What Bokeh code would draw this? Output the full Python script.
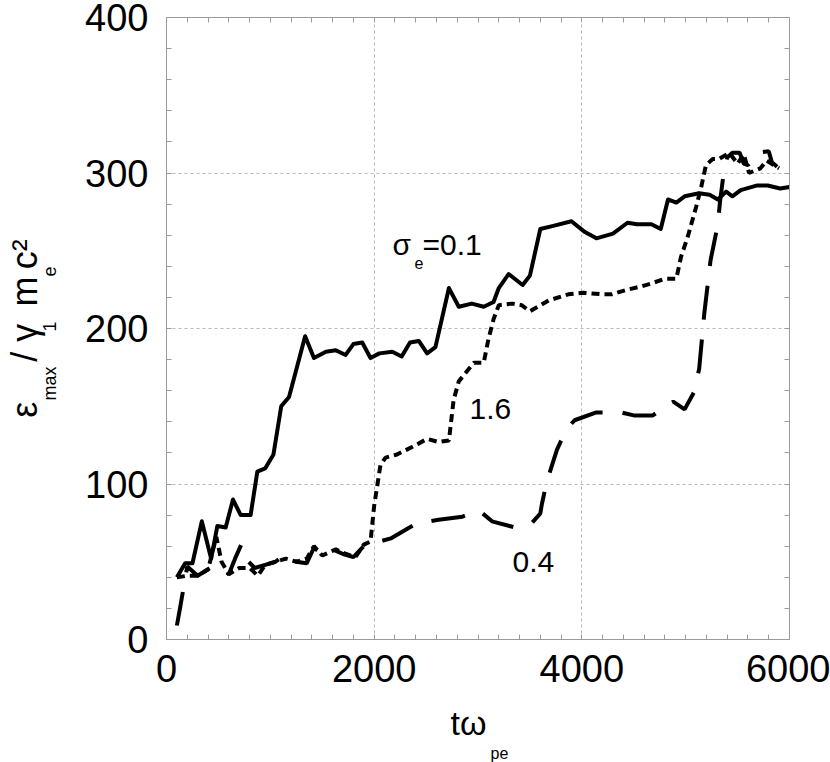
from bokeh.plotting import figure
from bokeh.models import Range1d, LinearAxis, Label, FixedTicker, Title
from bokeh.embed import file_html
from bokeh.resources import INLINE

# ---------------- data ----------------
x_s01 = [100, 180, 250, 340, 430, 490, 570, 640, 715, 810, 875, 950, 1030, 1105, 1180, 1260,
         1335, 1420, 1535, 1630, 1725, 1800, 1885, 1965, 2050, 2175, 2265, 2345, 2430, 2510,
         2590, 2720, 2815, 2940, 3055, 3150, 3200, 3295, 3430, 3500, 3600, 3725, 3900, 4030,
         4140, 4300, 4440, 4530, 4670, 4760, 4830, 4910, 4990, 5130, 5230, 5310, 5390, 5450,
         5530, 5690, 5790, 5910, 6000]
y_s01 = [40, 49, 49, 76, 52, 73, 72, 90, 80, 80, 108, 110, 119, 150, 156, 176,
         195, 181, 185, 186, 183, 190, 191, 181, 184, 185, 182, 191, 192, 184,
         188, 226, 214, 216, 214, 217, 226, 235, 228, 234, 264, 266, 269, 262,
         258, 261, 268, 267, 267, 264, 283, 281, 285, 287, 286, 283, 288, 285,
         289, 292, 292, 290, 291]

x_s16 = [100, 200, 300, 400, 480, 530, 600, 700, 800, 880, 950, 1050, 1150, 1250, 1350, 1420,
         1500, 1630, 1730, 1820, 1900, 1965, 2000, 2060, 2110, 2220, 2370, 2510, 2620, 2720,
         2765, 2815, 2960, 3055, 3100, 3150, 3200, 3330, 3420, 3500, 3680, 3870, 4010, 4190,
         4290, 4440, 4570, 4670, 4800, 4910, 4955, 5020, 5100, 5150, 5195, 5260, 5320, 5420,
         5500, 5560, 5610, 5720, 5780, 5850, 5900]
y_s16 = [40, 41, 41, 45, 66, 50, 42, 46, 46, 41, 48, 50, 52, 50, 52, 60,
         54, 58, 55, 53, 61, 63, 86, 112, 117, 119, 124, 129, 127, 128,
         154, 166, 178, 178, 193, 206, 215, 216, 215, 211, 218, 222, 223, 222,
         222, 225, 227, 229, 232, 232, 246, 259, 278, 291, 305, 309, 309, 313,
         306, 312, 300, 303, 308, 305, 303]

x_s04 = [100, 130, 200, 300, 420, 520, 600, 660, 720, 760, 850, 950, 1050, 1150, 1250, 1350,
         1420, 1500, 1600, 1700, 1800, 1900, 2050, 2160, 2340, 2450, 2530, 2620, 2850, 3010,
         3135, 3360, 3520, 3600, 3615, 3660, 3760, 3850, 3930, 4140, 4380, 4510, 4680, 4880,
         4990, 5080, 5130, 5180, 5240, 5310, 5330, 5370, 5400, 5450, 5520, 5560, 5600, 5680,
         5800, 5830, 5880]
y_s04 = [9, 20, 47, 41, 46, 47, 42, 52, 61, 52, 46, 48, 50, 55, 50, 49,
         59, 55, 58, 55, 53, 60, 63, 65, 72, 76, 76, 77, 79, 83,
         76, 72, 75, 81, 87, 101, 122, 135, 141, 146, 146, 144, 144, 153,
         148, 159, 174, 210, 244, 267, 281, 302, 310, 313, 313, 306, 305, 313,
         314, 307, 304]

x_ticks = [0, 2000, 4000, 6000]
y_ticks = [0, 100, 200, 300, 400]

NB = "\u00a0"
TH = "\u2009"
y_title_main = "ε" + NB * 4 + "/" + NB + "γ" + NB + TH + "m" + TH + "c²"
y_title_sub = "max" + NB * 7 + "1" + NB * 9 + "e" + NB * 2
x_title_main = "tω" + NB * 2
x_title_sub = "pe"

# ---------------- layout ----------------
FONT = "Liberation Sans"
FW, FH = 623, 622
ML, MT = 166, 17
W, H = 830, 762
XMAX, YMAX = 6000, 400

p = figure(output_backend="svg", toolbar_location=None,
           x_range=Range1d(0, XMAX), y_range=Range1d(0, YMAX),
           frame_width=FW, frame_height=FH,
           min_border_left=ML, min_border_top=MT,
           min_border_right=W - ML - FW, min_border_bottom=H - MT - FH,
           x_axis_location=None, y_axis_location=None)
p.outline_line_color = None
p.background_fill_color = "white"
p.border_fill_color = "white"


def minor_list(ticks, n):
    out = []
    for a, b in zip(ticks[:-1], ticks[1:]):
        step = (b - a) / n
        out += [a + k * step for k in range(1, n)]
    return out


def make_axis(ticks, n, labels):
    ax = LinearAxis()
    if labels:
        ax.ticker = FixedTicker(ticks=ticks, minor_ticks=minor_list(ticks, n))
        ax.major_label_text_font = FONT
        ax.major_label_text_font_size = "38px"
        ax.major_label_text_color = "black"
    else:
        ax.ticker = FixedTicker(ticks=[], minor_ticks=sorted(ticks + minor_list(ticks, n)))
    ax.axis_line_color = "#9a9a9a"
    ax.axis_line_width = 1
    ax.major_tick_line_color = "#9a9a9a"
    ax.minor_tick_line_color = "#9a9a9a"
    ax.major_tick_in = 5
    ax.major_tick_out = 0
    ax.minor_tick_in = 5
    ax.minor_tick_out = 0
    return ax


xb = make_axis(x_ticks, 10, True)
yl = make_axis(y_ticks, 5, True)
xt = make_axis(x_ticks, 10, False)
yr = make_axis(y_ticks, 5, False)
xb.major_label_standoff = 15
yl.major_label_standoff = 18

xb.axis_label = x_title_main
xb.axis_label_text_font = FONT
xb.axis_label_text_font_size = "34px"
xb.axis_label_text_font_style = "normal"
xb.axis_label_text_color = "black"
xb.axis_label_standoff = 19

yl.axis_label = y_title_sub
yl.axis_label_text_font = FONT
yl.axis_label_text_font_size = "18px"
yl.axis_label_text_font_style = "normal"
yl.axis_label_text_color = "black"
yl.axis_label_standoff = 22

p.add_layout(xb, "below")
p.add_layout(yl, "left")
p.add_layout(xt, "above")
p.add_layout(yr, "right")

p.add_layout(Title(text=x_title_sub, align="left", offset=324, vertical_align="top",
                   standoff=0, text_font=FONT, text_font_size="16px",
                   text_font_style="normal", text_color="black"), "below")
p.add_layout(Title(text=y_title_main, align="center", vertical_align="bottom",
                   standoff=-14, text_font=FONT, text_font_size="36px",
                   text_font_style="normal", text_color="black"), "left")

p.xgrid.ticker = FixedTicker(ticks=x_ticks)
p.ygrid.ticker = FixedTicker(ticks=y_ticks)
p.xgrid.grid_line_color = "#b8b8b8"
p.ygrid.grid_line_color = "#b8b8b8"
p.xgrid.grid_line_dash = "3 3"
p.ygrid.grid_line_dash = "3 3"

# ---------------- series ----------------
p.line(x_s01, y_s01, line_color="black", line_width=4, line_join="round")
p.line(x_s16, y_s16, line_color="black", line_width=4, line_dash="8 5")
p.line(x_s04, y_s04, line_color="black", line_width=4, line_dash="34 20")

# ---------------- in-plot labels ----------------
def dx(px):
    return (px - ML) * XMAX / FW


def dy(py):
    return (MT + FH - py) * YMAX / FH


def lab(px, py, text, size):
    # py is the wanted baseline on the page; small correction for the label box
    p.add_layout(Label(x=dx(px), y=dy(py - 0.38 * size), text=text, text_font=FONT,
                       text_font_size=f"{size}px", text_color="black",
                       text_align="left", text_baseline="alphabetic"))


lab(392, 255, "σ", 30)
lab(414, 269, "e", 16)
lab(422, 255, "=0.1", 30)
lab(469, 420, "1.6", 30)
lab(512, 573, "0.4", 30)

open("out.html", "w").write(file_html(p, INLINE))
